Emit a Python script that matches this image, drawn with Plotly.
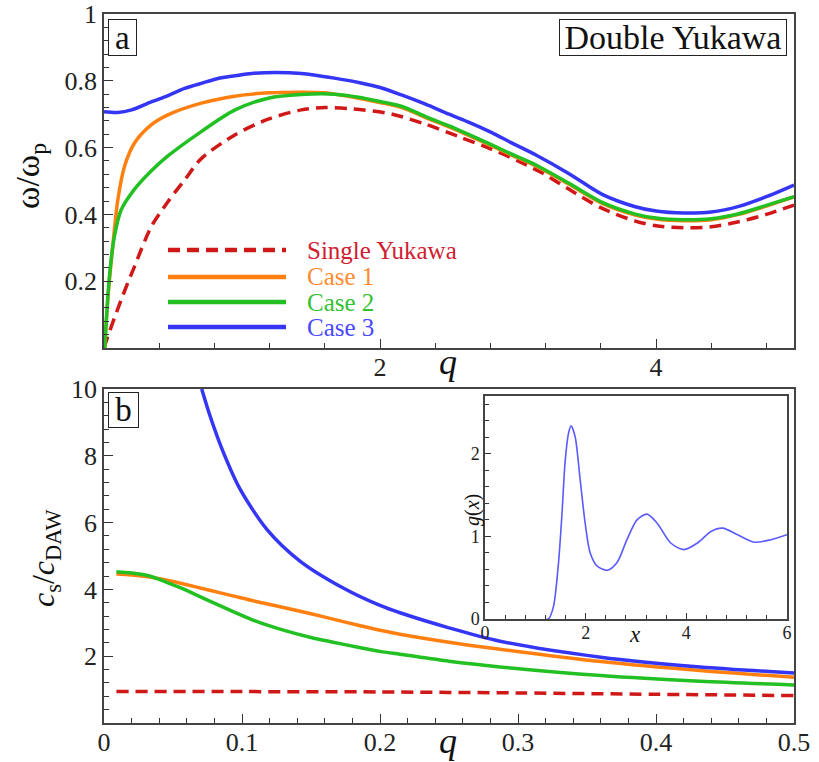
import plotly.graph_objects as go

# ---------------- data: panel (a) dispersion ----------------
q_red_a = [0, 0.027, 0.124, 0.22, 0.342, 0.463, 0.584, 0.705, 0.948, 1.19, 1.43, 1.6, 1.8, 2.09,
           2.33, 2.57, 2.81, 3.0, 3.18, 3.37, 3.61, 3.85, 4.0, 4.2, 4.4, 4.6, 4.8, 5.0]
w_red_a = [0.0, 0.034, 0.144, 0.243, 0.363, 0.438, 0.503, 0.567, 0.638, 0.685, 0.713, 0.72, 0.716,
           0.70, 0.67, 0.633, 0.595, 0.56, 0.523, 0.475, 0.418, 0.38, 0.366, 0.36, 0.363, 0.378,
           0.40, 0.428]

q_c1_a = [0.005, 0.031, 0.063, 0.1, 0.148, 0.22, 0.342, 0.463, 0.705, 0.946, 1.19, 1.43, 1.6,
          1.845, 2.0, 2.16, 2.33, 2.5, 2.65, 2.81, 2.95, 3.13, 3.37, 3.61, 3.85, 4.0, 4.2, 4.4,
          4.6, 4.8, 5.0]
w_c1_a = [0.0, 0.164, 0.303, 0.443, 0.543, 0.613, 0.668, 0.698, 0.733, 0.754, 0.764, 0.766, 0.764,
          0.748, 0.735, 0.72, 0.69, 0.662, 0.635, 0.605, 0.578, 0.545, 0.49, 0.433, 0.398, 0.386,
          0.381, 0.384, 0.400, 0.425, 0.452]

q_c2_a = [0.005, 0.039, 0.075, 0.124, 0.22, 0.342, 0.463, 0.705, 0.946, 1.19, 1.43, 1.67, 1.845,
          2.0, 2.16, 2.33, 2.5, 2.65, 2.81, 2.95, 3.13, 3.37, 3.61, 3.85, 4.0, 4.2, 4.4, 4.6, 4.8,
          5.0]
w_c2_a = [0.0, 0.213, 0.333, 0.413, 0.475, 0.53, 0.575, 0.648, 0.712, 0.748, 0.759, 0.760, 0.751,
          0.738, 0.723, 0.693, 0.665, 0.638, 0.608, 0.581, 0.548, 0.493, 0.436, 0.401, 0.389,
          0.384, 0.387, 0.402, 0.427, 0.453]

q_c3_a = [0, 0.1, 0.2, 0.342, 0.46, 0.584, 0.71, 0.826, 0.95, 1.07, 1.25, 1.43, 1.67, 1.845, 2.0,
          2.16, 2.33, 2.5, 2.65, 2.81, 2.95, 3.13, 3.37, 3.61, 3.85, 4.0, 4.2, 4.4, 4.6, 4.8, 5.0]
w_c3_a = [0.707, 0.705, 0.713, 0.737, 0.755, 0.777, 0.793, 0.807, 0.815, 0.822, 0.825, 0.822,
          0.808, 0.795, 0.78, 0.757, 0.73, 0.70, 0.675, 0.645, 0.615, 0.578, 0.522, 0.46, 0.423,
          0.41, 0.404, 0.407, 0.424, 0.453, 0.488]

# ---------------- data: panel (b) sound speed ratio ----------------
q_red_b = [0.009, 0.1, 0.2, 0.3, 0.4, 0.5]
c_red_b = [0.94, 0.94, 0.93, 0.90, 0.86, 0.82]

q_c1_b = [0.009, 0.02, 0.033, 0.045, 0.057, 0.075, 0.094, 0.11, 0.13, 0.15, 0.166, 0.185, 0.202,
          0.2145, 0.25, 0.287, 0.36, 0.432, 0.5]
c_c1_b = [4.46, 4.43, 4.37, 4.28, 4.17, 3.99, 3.80, 3.64, 3.46, 3.27, 3.11, 2.92, 2.76, 2.66,
          2.42, 2.21, 1.84, 1.57, 1.37]

q_c2_b = [0.009, 0.02, 0.033, 0.045, 0.057, 0.075, 0.094, 0.11, 0.13, 0.15, 0.166, 0.185, 0.202,
          0.2145, 0.25, 0.287, 0.36, 0.432, 0.5]
c_c2_b = [4.53, 4.49, 4.40, 4.22, 4.02, 3.68, 3.33, 3.05, 2.78, 2.56, 2.42, 2.26, 2.13, 2.06,
          1.85, 1.68, 1.42, 1.25, 1.14]

q_c3_b = [0.0708, 0.0768, 0.0865, 0.0986, 0.118, 0.142, 0.173, 0.2, 0.2145, 0.25, 0.287, 0.36,
          0.432, 0.5]
c_c3_b = [10.0, 9.2, 8.1, 7.0, 5.8, 4.85, 4.05, 3.52, 3.3, 2.85, 2.45, 1.97, 1.68, 1.5]

# ---------------- data: inset g(x) ----------------
x_g = [1.22, 1.26, 1.36, 1.46, 1.53, 1.59, 1.66, 1.71, 1.79, 1.89, 1.99, 2.09, 2.23, 2.43, 2.62,
       2.82, 3.02, 3.22, 3.42, 3.69, 3.95, 4.22, 4.49, 4.72, 5.02, 5.35, 5.68, 6.0]
g_val = [0.0, 0.0, 0.15, 0.68, 1.28, 1.89, 2.25, 2.34, 2.21, 1.69, 1.16, 0.80, 0.64, 0.59, 0.68,
         0.96, 1.20, 1.27, 1.16, 0.92, 0.84, 0.92, 1.06, 1.10, 1.02, 0.93, 0.96, 1.02]

series_names = ["Single Yukawa", "Case 1", "Case 2", "Case 3"]
series_colors = ["#d01818", "#ff8010", "#22c022", "#3535f5"]
text_colors = ["#d02030", "#ff8a30", "#33c033", "#4848ff"]
series_dash = ["12px,7px", "solid", "solid", "solid"]

panel_a = [(q_red_a, w_red_a), (q_c1_a, w_c1_a), (q_c2_a, w_c2_a), (q_c3_a, w_c3_a)]
panel_b = [(q_red_b, c_red_b), (q_c1_b, c_c1_b), (q_c2_b, c_c2_b), (q_c3_b, c_c3_b)]

W, H = 819, 762
def px(x):
    return x / W
def py(y):
    return 1 - y / H

SERIF = "Liberation Serif, Times New Roman, serif"
fig = go.Figure()

for i in range(4):
    xs, ys = panel_a[i]
    fig.add_trace(go.Scatter(x=xs, y=ys, mode="lines", xaxis="x", yaxis="y",
                             line=dict(color=series_colors[i], width=3.5, dash=series_dash[i],
                                       shape="spline", smoothing=0.8),
                             name=series_names[i], showlegend=False))
for i in range(4):
    xs, ys = panel_b[i]
    fig.add_trace(go.Scatter(x=xs, y=ys, mode="lines", xaxis="x2", yaxis="y2",
                             line=dict(color=series_colors[i], width=3.5, dash=series_dash[i],
                                       shape="spline", smoothing=0.8),
                             name=series_names[i], showlegend=False))
fig.add_trace(go.Scatter(x=x_g, y=g_val, mode="lines", xaxis="x3", yaxis="y3",
                         line=dict(color="#5a5aff", width=1.6, shape="spline", smoothing=0.8),
                         showlegend=False))

def axis(domain, rng, tickvals, ticktext, minor_dtick, anchor, size=26, ticklen=9, minorlen=5,
         standoff=0):
    return dict(domain=domain, range=rng, anchor=anchor, showline=True, mirror=True,
                linecolor="#444", linewidth=1.5, ticks="inside", ticklen=ticklen, tickwidth=1.3,
                tickcolor="#333", tickvals=tickvals, ticktext=ticktext,
                minor=dict(ticks="inside", ticklen=minorlen, tickwidth=1.1, tickcolor="#333",
                           tick0=0, dtick=minor_dtick),
                showgrid=False, zeroline=False, automargin=False,
                ticklabeloverflow="allow", ticklabelstandoff=standoff,
                tickfont=dict(family=SERIF, size=size, color="#222"))

xdom = [px(104), px(794)]
layout = dict(
    width=W, height=H, margin=dict(l=0, r=0, t=0, b=0),
    paper_bgcolor="white", plot_bgcolor="white", showlegend=False,
    xaxis=axis(xdom, [0, 5], [0, 2, 4], ["", "2", "4"], 0.4, "y", standoff=-5),
    yaxis=axis([py(348), py(14)], [0, 1], [0, 0.2, 0.4, 0.6, 0.8, 1.0],
               ["", "0.2", "0.4", "0.6", "0.8", "1"], 0.04, "x"),
    xaxis2=axis(xdom, [0, 0.5], [0, 0.1, 0.2, 0.3, 0.4, 0.5],
                ["0", "0.1", "0.2", "0.3", "0.4", "0.5"], 0.02, "y2", standoff=-5),
    yaxis2=axis([py(723), py(389)], [0, 10], [0, 2, 4, 6, 8, 10],
                ["", "2", "4", "6", "8", "10"], 0.4, "x2"),
    xaxis3=axis([px(485), px(787)], [0, 6], [0, 2, 4, 6], ["0", "2", "4", "6"], 0.4, "y3",
                size=18, ticklen=6, minorlen=4, standoff=-3),
    yaxis3=axis([py(619), py(396)], [0, 2.7], [0, 1, 2], ["0", "1", "2"], 0.2, "x3",
                size=18, ticklen=6, minorlen=4),
)
fig.update_layout(**layout)

ann = []
def text(x, y, t, size, color="#111", angle=0, xanchor="center", **kw):
    d = dict(x=px(x), y=py(y), xref="paper", yref="paper", text=t, showarrow=False,
             font=dict(family=SERIF, size=size, color=color), textangle=angle,
             xanchor=xanchor, yanchor="middle")
    d.update(kw)
    ann.append(d)

text(122.5, 37.5, "a", 33, bordercolor="#222", borderwidth=1, width=27, height=35,
     borderpad=0, bgcolor="white")
text(673, 37.5, "Double Yukawa", 34, bordercolor="#222", borderwidth=1, width=226, height=35,
     borderpad=0, bgcolor="white")
text(123.5, 410, "b", 33, bordercolor="#222", borderwidth=1, width=29, height=34,
     borderpad=0, bgcolor="white")
text(30, 176, "ω/ω<sub>p</sub>", 34, angle=-90)
text(45, 558, "<i>c</i><sub>s</sub>/<i>c</i><sub>DAW</sub>", 32, angle=-90)
text(448, 362, "<i>q</i>", 36)
text(448, 741, "<i>q</i>", 36)
text(472, 510, "<i>g</i>(<i>x</i>)", 20, angle=-90)
text(635, 634, "<i>x</i>", 23)

shapes = []
leg_y = [250, 277, 302, 327]
for i in range(4):
    shapes.append(dict(type="line", xref="paper", yref="paper", x0=px(168), x1=px(286),
                       y0=py(leg_y[i]), y1=py(leg_y[i]),
                       line=dict(color=series_colors[i], width=4.5, dash=series_dash[i])))
    text(305, leg_y[i], series_names[i], 25, color=text_colors[i], xanchor="left")

fig.update_layout(annotations=ann, shapes=shapes)
fig.write_html("out.html")
